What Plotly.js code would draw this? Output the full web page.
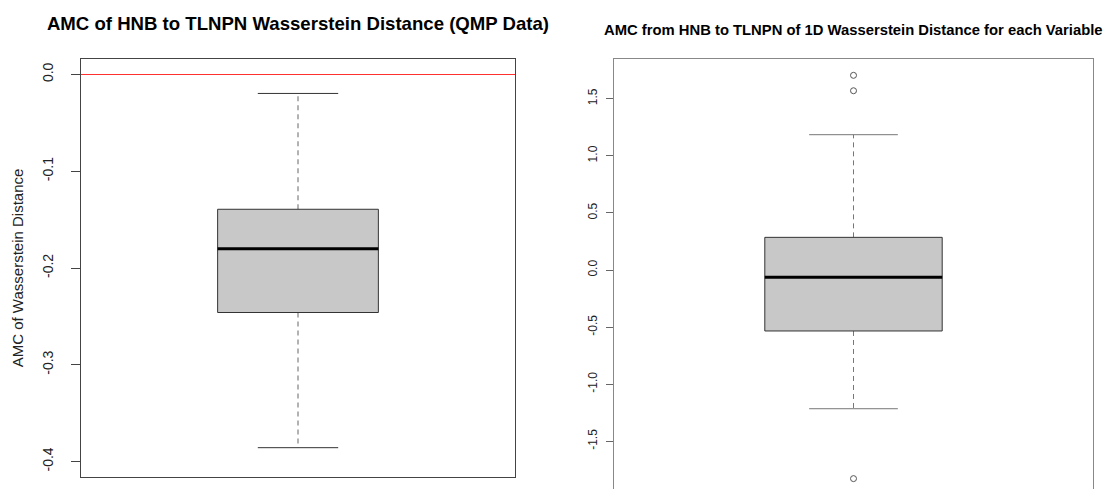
<!DOCTYPE html>
<html>
<head>
<meta charset="utf-8">
<script src="https://cdn.plot.ly/plotly-3.0.1.min.js"></script>
<style>html,body{margin:0;padding:0;background:#fff}#chart{width:1107px;height:489px}</style>
</head>
<body>
<div id="chart"></div>
<script>
// ---- data ----
// stats order: [lower whisker, Q1, median, Q3, upper whisker]
const qmpStats = [-0.3857, -0.2460, -0.1800, -0.1393, -0.0196];
const varStats = [-1.215, -0.534, -0.064, 0.286, 1.185];
const varOutliers = [1.705, 1.570, -1.827];
const refLine = [0];
const qmpTickVals = [0, -0.1, -0.2, -0.3, -0.4];
const qmpTickText = ['0.0', '-0.1', '-0.2', '-0.3', '-0.4'];
const varTickVals = [1.5, 1.0, 0.5, 0, -0.5, -1.0, -1.5];
const varTickText = ['1.5', '1.0', '0.5', '0.0', '-0.5', '-1.0', '-1.5'];

const FONT = 'Liberation Sans, Arial, Helvetica, sans-serif';
const POS = 1, HALF = 0.2, CAP = 0.1;

function boxTraces(s, xa, ya, c) {
  const [lo, q1, med, q3, hi] = s;
  const base = {xaxis: xa, yaxis: ya, mode: 'lines', hoverinfo: 'skip', showlegend: false};
  return [
    Object.assign({}, base, {
      x: [POS, POS, null, POS, POS], y: [q3, hi, null, q1, lo],
      line: {color: c.whisker, width: 1, dash: '5px,4px'}
    }),
    Object.assign({}, base, {
      x: [POS - CAP, POS + CAP, null, POS - CAP, POS + CAP], y: [hi, hi, null, lo, lo],
      line: {color: c.cap, width: 1}
    }),
    Object.assign({}, base, {
      x: [POS - HALF, POS + HALF, POS + HALF, POS - HALF, POS - HALF],
      y: [q1, q1, q3, q3, q1],
      fill: 'toself', fillcolor: '#c8c8c8',
      line: {color: c.box, width: 1}
    }),
    Object.assign({}, base, {
      x: [POS - HALF, POS + HALF], y: [med, med],
      line: {color: '#000', width: 3}
    })
  ];
}

const traces = [].concat(
  boxTraces(qmpStats, 'x', 'y', {whisker: '#666', cap: '#333', box: '#333'}),
  [{
    x: [0.46, 1.54], y: [refLine[0], refLine[0]], xaxis: 'x', yaxis: 'y',
    mode: 'lines', line: {color: '#ff3030', width: 1.2}, hoverinfo: 'skip', showlegend: false
  }],
  boxTraces(varStats, 'x2', 'y2', {whisker: '#777', cap: '#777', box: '#333'}),
  [{
    x: varOutliers.map(() => POS), y: varOutliers, xaxis: 'x2', yaxis: 'y2',
    mode: 'markers', marker: {symbol: 'circle-open', size: 6, color: '#555', line: {width: 1, color: '#555'}},
    hoverinfo: 'skip', showlegend: false
  }]
);

const W = 1107, H = 489;
const layout = {
  width: W, height: H,
  margin: {l: 0, r: 0, t: 0, b: 0},
  paper_bgcolor: '#fff', plot_bgcolor: '#fff',
  font: {family: FONT, color: '#222'},
  title: {
    text: '<b>AMC of HNB to TLNPN Wasserstein Distance (QMP Data)</b>',
    x: 298 / W, xanchor: 'center', xref: 'paper',
    y: 1 - 23 / H, yanchor: 'middle', yref: 'paper',
    font: {family: FONT, size: 18.6, color: '#000'}
  },
  annotations: [{
    text: '<b>AMC from HNB to TLNPN of 1D Wasserstein Distance for each Variable</b>',
    x: 853 / W, y: 1 - 30 / H, xref: 'paper', yref: 'paper',
    xanchor: 'center', yanchor: 'middle', showarrow: false,
    font: {family: FONT, size: 14.8, color: '#000'}
  }],
  xaxis: {
    domain: [81 / W, 515 / W], range: [0.46, 1.54], anchor: 'y',
    showticklabels: false, ticks: '', showgrid: false, zeroline: false,
    showline: true, mirror: true, linecolor: '#444', linewidth: 1, fixedrange: true
  },
  yaxis: {
    domain: [12 / H, 430 / H], range: [-0.416, 0.016], anchor: 'x',
    tickmode: 'array', tickvals: qmpTickVals, ticktext: qmpTickText,
    tickangle: -90, ticks: 'outside', ticklen: 9, tickcolor: '#444', tickwidth: 1,
    ticklabelstandoff: 12,
    tickfont: {family: FONT, size: 14, color: '#222'},
    showgrid: false, zeroline: false,
    showline: true, mirror: true, linecolor: '#444', linewidth: 1,
    title: {text: 'AMC of Wasserstein Distance', font: {family: FONT, size: 15, color: '#222'}, standoff: 13},
    fixedrange: true
  },
  xaxis2: {
    domain: [614 / W, 1093 / W], range: [0.46, 1.54], anchor: 'y2', side: 'top',
    showticklabels: false, ticks: '', showgrid: false, zeroline: false,
    showline: true, linecolor: '#888', linewidth: 1, fixedrange: true
  },
  yaxis2: {
    domain: [0, 430 / H], range: [-1.918, 1.848], anchor: 'x2',
    tickmode: 'array', tickvals: varTickVals, ticktext: varTickText,
    tickangle: -90, ticks: 'outside', ticklen: 7, tickcolor: '#666', tickwidth: 1,
    ticklabelstandoff: 4,
    tickfont: {family: FONT, size: 12, color: '#222'},
    showgrid: false, zeroline: false,
    showline: true, mirror: true, linecolor: '#888', linewidth: 1,
    fixedrange: true
  }
};

Plotly.newPlot('chart', traces, layout, {displayModeBar: false, staticPlot: true});
</script>
</body>
</html>
